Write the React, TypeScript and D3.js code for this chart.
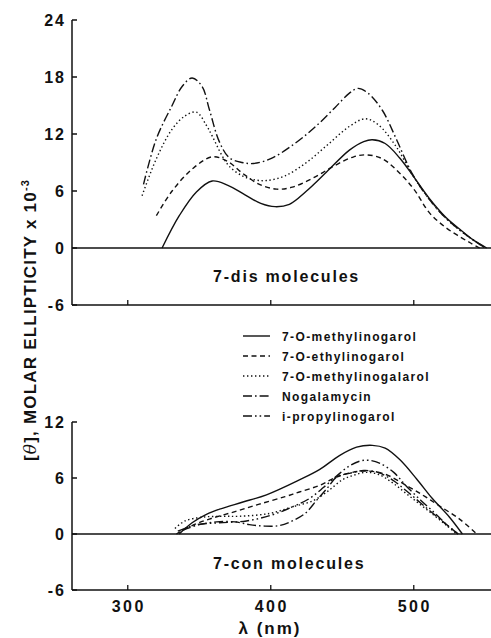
import React from "react";
import * as d3 from "d3";

// wavelength ticks and the y ticks of both panels
const nmTicks = [300, 400, 500];
const disTicks = [24, 18, 12, 6, 0, -6];
const conTicks = [12, 6, 0, -6];

const seriesNames = [
  "7-O-methylinogarol",
  "7-O-ethylinogarol",
  "7-O-methylinogalarol",
  "Nogalamycin",
  "i-propylinogarol",
];

// 7-dis panel (upper)
const disMethylNm = [324, 336, 348, 359, 370, 382, 393, 403, 413, 425, 439, 455, 465, 471, 480, 490, 499, 511, 522, 532, 542, 551];
const disMethylVal = [0, 3.4, 5.9, 7.05, 6.6, 5.6, 4.7, 4.35, 4.6, 6.0, 8.0, 10.3, 11.2, 11.4, 11.0, 9.5, 7.7, 5.2, 3.3, 2.0, 0.8, 0];

const disEthylNm = [320, 331, 345, 359, 370, 380, 392, 404, 415, 430, 445, 458, 467, 478, 490, 500, 511, 522, 532, 540, 546];
const disEthylVal = [3.4, 6.0, 8.3, 9.6, 9.1, 7.9, 6.7, 6.2, 6.4, 7.4, 8.7, 9.6, 9.8, 9.4, 7.9, 6.2, 3.7, 2.2, 1.2, 0.5, 0];

const disGalarolNm = [310, 320, 331, 340, 348, 355, 359, 366, 371, 380, 388, 397, 410, 425, 440, 455, 466, 475, 488, 499, 511, 522, 532, 542, 550];
const disGalarolVal = [5.5, 9.4, 12.5, 13.9, 14.3, 12.9, 11.8, 9.7, 8.6, 7.6, 7.2, 7.1, 7.6, 9.0, 10.9, 12.8, 13.6, 13.0, 10.6, 7.7, 5.1, 3.2, 1.9, 0.8, 0];

const disNogalNm = [311, 320, 331, 338, 345, 352, 357, 364, 371, 380, 388, 400, 415, 430, 445, 455, 461, 468, 478, 488, 499, 511, 522, 532, 542, 550];
const disNogalVal = [6.7, 11.5, 15.0, 17.0, 17.9, 17.0, 14.6, 11.2, 9.5, 9.0, 8.9, 9.4, 10.8, 12.6, 14.8, 16.3, 16.8, 16.3, 14.5, 11.4, 7.8, 5.1, 3.2, 1.9, 0.8, 0];

// 7-con panel (lower)
const conMethylNm = [336, 345, 355, 365, 380, 397, 420, 434, 448, 460, 471, 480, 490, 502, 513, 525, 534];
const conMethylVal = [0, 1.2, 2.1, 2.7, 3.4, 4.2, 5.8, 6.9, 8.4, 9.3, 9.5, 9.2, 8.0, 5.9, 3.8, 1.8, 0];

const conEthylNm = [334, 345, 357, 375, 392, 410, 420, 434, 446, 457, 467, 480, 497, 508, 518, 532, 544];
const conEthylVal = [0, 0.9, 1.6, 2.4, 3.2, 4.0, 4.5, 5.2, 6.1, 6.6, 6.75, 6.4, 5.0, 4.0, 3.0, 1.6, 0];

const conGalarolNm = [333, 340, 352, 365, 378, 399, 415, 430, 440, 450, 458, 466, 475, 485, 495, 505, 515, 523, 530];
const conGalarolVal = [0.6, 1.4, 1.8, 1.9, 1.9, 2.2, 2.9, 3.6, 4.6, 5.8, 6.3, 6.6, 6.4, 5.5, 4.3, 3.1, 1.9, 0.9, 0];

const conNogalNm = [338, 350, 362, 375, 385, 395, 406, 415, 424, 432, 440, 446, 455, 465, 475, 485, 495, 505, 515, 523, 531];
const conNogalVal = [0.4, 1.0, 1.3, 1.3, 1.0, 0.85, 0.9, 1.4, 2.2, 3.6, 5.0, 6.1, 6.5, 6.8, 6.6, 5.8, 4.6, 3.3, 2.0, 1.0, 0];

const conPropylNm = [335, 348, 364, 383, 400, 415, 427, 437, 446, 454, 462, 468, 476, 486, 495, 505, 515, 523, 531];
const conPropylVal = [0.3, 1.0, 1.2, 1.4, 2.0, 2.9, 3.8, 5.0, 6.2, 7.2, 7.8, 7.9, 7.6, 6.6, 5.1, 3.6, 2.2, 1.0, 0];

const dashes = ["", "5,3.5", "1.4,2.6", "9,3,1.6,3", "9,3,1.6,3,1.6,3"];

const W = 491;
const H = 638;
const font = "'Liberation Sans', Arial, Helvetica, sans-serif";

const x = d3.scaleLinear().domain([261, 554]).range([72, 491]);
const yDis = d3.scaleLinear().domain([-6, 24]).range([305, 20]);
const yCon = d3.scaleLinear().domain([-6, 12]).range([590, 422]);

function toPoints(nm: number[], val: number[]) {
  return nm.map((n, i) => [n, val[i]] as [number, number]);
}

const disSeries = [
  toPoints(disMethylNm, disMethylVal),
  toPoints(disEthylNm, disEthylVal),
  toPoints(disGalarolNm, disGalarolVal),
  toPoints(disNogalNm, disNogalVal),
];
const conSeries = [
  toPoints(conMethylNm, conMethylVal),
  toPoints(conEthylNm, conEthylVal),
  toPoints(conGalarolNm, conGalarolVal),
  toPoints(conNogalNm, conNogalVal),
  toPoints(conPropylNm, conPropylVal),
];

function Panel({ y, ticks, series, label, labelY, showNm }: any) {
  const line = d3
    .line<[number, number]>()
    .x((d) => x(d[0]))
    .y((d) => y(d[1]))
    .curve(d3.curveCatmullRom.alpha(0.5));
  const [lo, hi] = y.domain();
  return (
    <g>
      {/* left axis */}
      <line x1={72} x2={72} y1={y(hi)} y2={y(lo)} stroke="#111" strokeWidth={1.5} />
      {ticks.map((t: number) => (
        <g key={t}>
          <line x1={72} x2={77} y1={y(t)} y2={y(t)} stroke="#111" strokeWidth={1.5} />
          <text
            x={66}
            y={y(t)}
            dy="0.36em"
            textAnchor="end"
            fontFamily={font}
            fontWeight="bold"
            fontSize={16}
            letterSpacing={2}
            fill="#111"
          >
            {t}
          </text>
        </g>
      ))}
      {/* bottom axis */}
      <line x1={72} x2={W} y1={y(lo)} y2={y(lo)} stroke="#111" strokeWidth={1.5} />
      {nmTicks.map((t) => (
        <g key={t}>
          <line x1={x(t)} x2={x(t)} y1={y(lo)} y2={y(lo) - 5} stroke="#111" strokeWidth={1.3} />
          {showNm && (
            <text
              x={x(t) + 1}
              y={612}
              textAnchor="middle"
              fontFamily={font}
              fontWeight="bold"
              fontSize={16}
              letterSpacing={2.5}
              fill="#111"
            >
              {t}
            </text>
          )}
        </g>
      ))}
      {/* zero line */}
      <line x1={72} x2={W} y1={y(0)} y2={y(0)} stroke="#111" strokeWidth={1.4} />
      {series.map((pts: [number, number][], i: number) => (
        <path
          key={i}
          d={line(pts) || ""}
          fill="none"
          stroke="#111"
          strokeWidth={1.4}
          strokeDasharray={dashes[i] || undefined}
        />
      ))}
      <text
        x={213}
        y={labelY}
        fontFamily={font}
        fontWeight="bold"
        fontSize={16}
        letterSpacing={1.8}
        fill="#111"
      >
        {label}
      </text>
    </g>
  );
}

export default function App() {
  const legendY = [336, 356, 376, 396, 416];
  return (
    <svg
      width={W}
      height={H}
      style={{ position: "absolute", left: 0, top: 0, background: "#fff" }}
    >
      <rect width={W} height={H} fill="#fff" />
      <Panel y={yDis} ticks={disTicks} series={disSeries} label="7-dis molecules" labelY={282} showNm={false} />
      <Panel y={yCon} ticks={conTicks} series={conSeries} label="7-con molecules" labelY={569} showNm={true} />

      {/* legend */}
      {seriesNames.map((name, i) => (
        <g key={name}>
          <line
            x1={243}
            x2={270}
            y1={legendY[i]}
            y2={legendY[i]}
            stroke="#111"
            strokeWidth={1.4}
            strokeDasharray={dashes[i] || undefined}
          />
          <text
            x={282}
            y={legendY[i] + 4.5}
            fontFamily={font}
            fontWeight="bold"
            fontSize={12}
            letterSpacing={1.4}
            fill="#111"
          >
            {name}
          </text>
        </g>
      ))}

      {/* axis titles */}
      <text
        x={270}
        y={634}
        textAnchor="middle"
        fontFamily={font}
        fontWeight="bold"
        fontSize={17}
        letterSpacing={2}
        fill="#111"
      >
        λ (nm)
      </text>
      <text
        transform="translate(36,320) rotate(-90)"
        textAnchor="middle"
        fontFamily={font}
        fontWeight="bold"
        fontSize={17}
        letterSpacing={1.2}
        fill="#111"
      >
        <tspan>[</tspan>
        <tspan fontFamily="'DejaVu Serif', serif" fontStyle="italic" fontWeight="normal">θ</tspan>
        <tspan>], MOLAR ELLIPTICITY x 10</tspan>
        <tspan fontSize={11} dy={-7}>-3</tspan>
      </text>
    </svg>
  );
}
